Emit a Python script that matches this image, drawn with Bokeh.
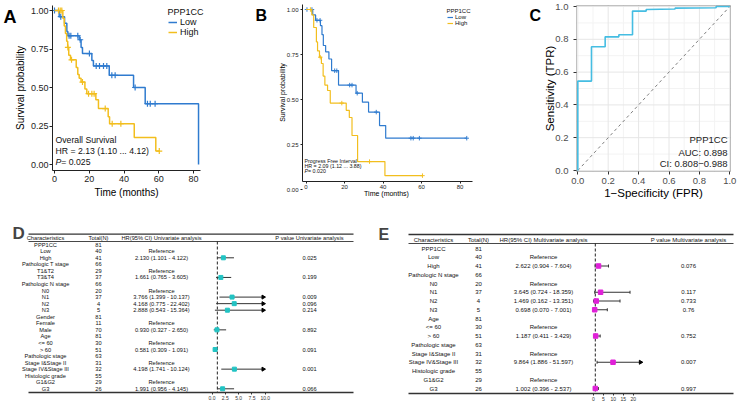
import numpy as np
from bokeh.core.properties import value
from bokeh.embed import file_html
from bokeh.layouts import column, row
from bokeh.models import (BoxAnnotation, FixedTicker, Label, Legend, LegendItem, LinearAxis,
                          PrintfTickFormatter, Range1d)
from bokeh.plotting import figure
from bokeh.resources import INLINE

FONT = "Liberation Sans"
LOW_COLOR = "#2F7BCF"
HIGH_COLOR = "#F2BE1E"
ROC_COLOR = "#45BDE2"
UNI_COLOR = "#22C3C3"
MULTI_COLOR = "#E020D8"
INK = "#222222"

# ---------------- Kaplan-Meier: overall survival ----------------
os_low_time = [2.7, 5.8, 7.1, 7.7, 14.2, 15.3, 16.1, 21.5, 22.4, 31.5, 45.5, 52.2, 82.9]
os_low_surv = [0.96, 0.918, 0.864, 0.836, 0.81, 0.76, 0.72, 0.676, 0.64, 0.579, 0.50, 0.395, 0.0]
os_low_cens = [0.0, 3.6, 8.4, 9.4, 13.4, 14.8, 20.1, 24.0, 25.9, 28.2, 30.1, 33.0, 34.9,
               46.4, 53.5, 55.1, 57.9]
os_high_time = [4.8, 5.6, 6.3, 7.0, 7.6, 8.2, 9.2, 12.5, 13.4, 14.2, 15.3, 17.5, 18.6,
                23.8, 25.3, 30.9, 31.7, 45.9, 58.3]
os_high_surv = [0.95, 0.90, 0.85, 0.80, 0.76, 0.71, 0.68, 0.63, 0.585, 0.56, 0.535, 0.49,
                0.46, 0.42, 0.363, 0.31, 0.265, 0.175, 0.087]
os_high_cens = [2.3, 3.3, 4.2, 7.7, 9.8, 16.1, 19.6, 21.5, 22.8, 29.2, 33.2, 38.2, 60.3]

# ---------------- Kaplan-Meier: progression free interval ----------------
pfi_low_time = [3.5, 5.0, 7.5, 8.3, 9.0, 10.2, 11.9, 13.3, 16.9, 26.0, 29.3, 32.5, 38.2, 41.4]
pfi_low_surv = [0.97, 0.94, 0.91, 0.86, 0.80, 0.765, 0.725, 0.66, 0.58, 0.535, 0.485, 0.43,
                0.355, 0.285]
pfi_low_cens = [0.5, 3.1, 5.7, 7.3, 14.9, 16.0, 22.7, 23.9, 26.6, 36.5, 54.5, 55.7, 58.9, 83.5]
pfi_high_time = [3.0, 4.0, 5.4, 6.0, 7.0, 8.0, 8.9, 9.8, 11.2, 12.6, 20.9, 22.5, 23.9, 26.8, 41.0]
pfi_high_surv = [0.97, 0.90, 0.82, 0.77, 0.735, 0.70, 0.63, 0.58, 0.55, 0.48, 0.44, 0.40,
                 0.30, 0.155, 0.077]
pfi_high_cens = [2.3, 7.4, 18.6, 33.0, 60.5]

time_ticks = [0, 20, 40, 60, 80]
surv_ticks = [0, 0.25, 0.5, 0.75, 1.0]

# ---------------- ROC ----------------
roc_fpr = [0.0, 0.0, 0.09, 0.09, 0.18, 0.18, 0.27, 0.27, 0.36, 0.36, 0.45, 0.45, 0.64, 0.64,
           0.91, 0.91, 1.0]
roc_tpr = [0.0, 0.545, 0.545, 0.755, 0.755, 0.815, 0.815, 0.828, 0.828, 0.972, 0.972, 0.982,
           0.985, 0.99, 0.992, 1.0, 1.0]
chance_line = [0.0, 1.0]
roc_ticks = [0.0, 0.2, 0.4, 0.6, 0.8, 1.0]
roc_minor = [0.1, 0.3, 0.5, 0.7, 0.9]

# ---------------- Cox regression: univariate ----------------
uni_names = ["PPP1CC", "Low", "High", "Pathologic T stage", "T1&T2", "T3&T4",
             "Pathologic N stage", "N0", "N1", "N2", "N3", "Gender", "Female", "Male", "Age",
             "<= 60", "> 60", "Pathologic stage", "Stage I&Stage II", "Stage IV&Stage III",
             "Histologic grade", "G1&G2", "G3"]
uni_total = [81, 40, 41, 66, 29, 37, 66, 20, 37, 4, 5, 81, 11, 70, 81, 30, 51, 63, 31, 32,
             55, 29, 26]
uni_reference = ["Low", "T1&T2", "N0", "Female", "<= 60", "Stage I&Stage II", "G1&G2"]
uni_term = ["High", "T3&T4", "N1", "N2", "N3", "Male", "> 60", "Stage IV&Stage III", "G3"]
uni_hr = [2.130, 1.661, 3.766, 4.168, 2.888, 0.930, 0.581, 4.198, 1.991]
uni_lo = [1.101, 0.765, 1.399, 0.775, 0.543, 0.327, 0.309, 1.741, 0.956]
uni_hi = [4.122, 3.605, 10.137, 22.402, 15.364, 2.650, 1.091, 10.124, 4.145]
uni_p = [0.025, 0.199, 0.009, 0.096, 0.214, 0.892, 0.091, 0.001, 0.066]
uni_ticks = [0, 2.5, 5, 7.5, 10]

# ---------------- Cox regression: multivariate ----------------
multi_names = ["PPP1CC", "Low", "High", "Pathologic N stage", "N0", "N1", "N2", "N3", "Age",
               "<= 60", "> 60", "Pathologic stage", "Stage I&Stage II", "Stage IV&Stage III",
               "Histologic grade", "G1&G2", "G3"]
multi_total = [81, 40, 41, 66, 20, 37, 4, 5, 81, 30, 51, 63, 31, 32, 55, 29, 26]
multi_reference = ["Low", "N0", "<= 60", "Stage I&Stage II", "G1&G2"]
multi_term = ["High", "N1", "N2", "N3", "> 60", "Stage IV&Stage III", "G3"]
multi_hr = [2.622, 3.645, 1.469, 0.698, 1.187, 9.864, 1.002]
multi_lo = [0.904, 0.724, 0.162, 0.070, 0.411, 1.886, 0.396]
multi_hi = [7.604, 18.359, 13.351, 7.001, 3.429, 51.597, 2.537]
multi_p = [0.076, 0.117, 0.733, 0.76, 0.752, 0.007, 0.997]
multi_ticks = [0, 5, 10, 15, 20]


# ------------------------------------------------------------------
# Every figure's frame fills its whole canvas; the axes are pinned with
# fixed_location/bounds so that each panel sits at a chosen pixel box.
# ------------------------------------------------------------------
def mapper(px0, kx, py0, ky):
    """Pixel -> data converters (page pixels, y downwards)."""
    return (lambda px: (px - px0) / kx), (lambda py: (py0 - py) / ky)


def canvas(ox, oy, w, h, X, Y, **kw):
    p = figure(width=w, height=h, x_range=Range1d(X(ox), X(ox + w)),
               y_range=Range1d(Y(oy + h), Y(oy)), min_border_left=0, min_border_right=0,
               min_border_top=0, min_border_bottom=0, output_backend="svg",
               toolbar_location=None, **kw)
    p.outline_line_color = None
    p.background_fill_color = "white"
    p.border_fill_color = "white"
    return p


def style_axis(ax, tick_px, tick_out, standoff, color=INK, line=True):
    ax.axis_line_color = color if line else None
    ax.axis_line_width = 1
    ax.major_tick_line_color = color
    ax.major_tick_out = tick_out
    ax.major_tick_in = 0
    ax.minor_tick_line_color = None
    ax.major_label_text_font = FONT
    ax.major_label_text_font_size = f"{tick_px}px"
    ax.major_label_text_color = color
    ax.major_label_standoff = standoff
    ax.axis_label = None


def text_label(p, x, y, text, size, **kw):
    opts = dict(text_font=FONT, text_font_size=f"{size}px", text_color="black",
                text_baseline="middle")
    opts.update(kw)
    p.add_layout(Label(x=x, y=y, text=text, **opts))


def km_panel(g, low, high, notes, letter):
    X, Y = mapper(g["px0"], g["kx"], g["py0"], g["ky"])
    p = canvas(g["ox"], 0, g["w"], 200, X, Y)
    p.grid.visible = False
    left, right, top, bottom = g["box"]
    p.xaxis.fixed_location = Y(bottom)
    p.xaxis.bounds = (X(left), X(right))
    p.yaxis.fixed_location = X(left)
    p.yaxis.bounds = (Y(bottom), Y(top))
    style_axis(p.xaxis[0], g["tick_px"], g["tick_out"], g["xso"])
    style_axis(p.yaxis[0], g["tick_px"], g["tick_out"], g["yso"])
    p.xaxis.ticker = FixedTicker(ticks=time_ticks)
    p.yaxis.ticker = FixedTicker(ticks=surv_ticks)
    p.yaxis.formatter = PrintfTickFormatter(format="%.2f")

    # axis titles
    tx, ty = g["xtitle"]
    text_label(p, X(tx), Y(ty), "Time (months)", g["title_px"], text_align="center")
    tx, ty = g["ytitle"]
    text_label(p, X(tx), Y(ty), "Survival probability", g["title_px"], text_align="center",
               angle=np.pi / 2)

    renderers = []
    for (times, surv, cens), color in ((low, LOW_COLOR), (high, HIGH_COLOR)):
        xs, ys = [0.0], [1.0]
        prev = 1.0
        for t, s in zip(times, surv):
            xs += [t, t]
            ys += [prev, s]
            prev = s
        end = max(times[-1], max(cens))
        if end > xs[-1]:
            xs.append(end)
            ys.append(prev)
        renderers.append(p.line(xs, ys, line_color=color, line_width=g["lw"]))
        cy = []
        for c in cens:
            s = 1.0
            for ti, si in zip(times, surv):
                if ti <= c:
                    s = si
            cy.append(s)
        p.scatter(cens, cy, marker="cross", size=g["mark"], line_color=color,
                  line_width=g["lw"] * 0.8)

    # legend
    lx, ly = g["leg_title"]
    text_label(p, X(lx), Y(ly), "PPP1CC", g["leg_px"], text_color="#111111")
    legend = Legend(items=[LegendItem(label="Low", renderers=[renderers[0]]),
                           LegendItem(label="High", renderers=[renderers[1]])],
                    location=g["leg_loc"], orientation="vertical")
    legend.label_text_font = FONT
    legend.label_text_font_size = f"{g['leg_px']}px"
    legend.label_text_color = "#111111"
    legend.label_height = g["leg_row"]
    legend.glyph_height = g["leg_row"]
    legend.glyph_width = g["leg_glyph"]
    legend.label_standoff = g["leg_so"]
    legend.spacing = 0
    legend.padding = 0
    legend.margin = 0
    legend.background_fill_alpha = 0
    legend.border_line_alpha = 0
    p.add_layout(legend)

    # statistics note
    nx, ny0, ndy, fs = g["note"]
    for i, txt in enumerate(notes):
        y = Y(ny0 + i * ndy)
        if txt.startswith("P ="):
            text_label(p, X(nx), y, "P", fs, text_font_style="italic", text_color="#111111")
            text_label(p, X(nx), y, txt[1:], fs, x_offset=0.667 * fs, text_color="#111111")
        else:
            text_label(p, X(nx), y, txt, fs, text_color="#111111")

    lx, lb, lfs = g["letter"]
    text_label(p, X(lx), Y(lb), letter, lfs, text_font_style="bold",
               text_baseline="alphabetic")
    return p


geo_a = dict(ox=0, w=245, px0=54.0, kx=1.7375, py0=164.0, ky=154.0, box=(52, 200, 5, 170),
             tick_px=9, tick_out=3, xso=2, yso=1, title_px=10, xtitle=(126, 192),
             ytitle=(20, 87.5), lw=1.5, mark=6, leg_title=(167, 11), leg_loc=(168, 163),
             leg_px=9, leg_row=10, leg_glyph=9, leg_so=3, note=(55, 139, 11, 8.7),
             letter=(3, 16, 18))
geo_b = dict(ox=245, w=245, px0=305.5, kx=1.925, py0=189.0, ky=180.0, box=(302, 472, 4, 181),
             tick_px=6, tick_out=2, xso=1, yso=2, title_px=7, xtitle=(386, 193.3),
             ytitle=(281.7, 92), lw=1.2, mark=4.5, leg_title=(446, 10), leg_loc=(202, 174),
             leg_px=6, leg_row=6, leg_glyph=6, leg_so=2, note=(304, 160, 5, 5.3),
             letter=(255, 15, 16))

pA = km_panel(geo_a, (os_low_time, os_low_surv, os_low_cens),
              (os_high_time, os_high_surv, os_high_cens),
              ["Overall Survival", "HR = 2.13 (1.10 ... 4.12)", "P = 0.025"], "A")
pB = km_panel(geo_b, (pfi_low_time, pfi_low_surv, pfi_low_cens),
              (pfi_high_time, pfi_high_surv, pfi_high_cens),
              ["Progress Free Interval", "HR = 2.09 (1.12 ... 3.88)", "P = 0.020"], "B")

# ---------------- ROC panel ----------------
Xc, Yc = mapper(577.3, 152.0, 170.0, 164.0)
pC = canvas(490, 0, 247, 200, Xc, Yc)
pC.grid.visible = False
c_left, c_right, c_top, c_bottom = Xc(576), Xc(730), Yc(5), Yc(171)
for vals, color in ((roc_minor, "#F3F3F3"), (roc_ticks, "#E6E6E6")):
    n = len(vals)
    pC.segment(x0=vals, x1=vals, y0=[c_bottom] * n, y1=[c_top] * n, line_color=color,
               line_width=1)
    pC.segment(x0=[c_left] * n, x1=[c_right] * n, y0=vals, y1=vals, line_color=color,
               line_width=1)
pC.add_layout(BoxAnnotation(left=c_left, right=c_right, bottom=c_bottom, top=c_top,
                            fill_color=None, line_color="#333333", line_width=1))
pC.xaxis.fixed_location = c_bottom
pC.xaxis.bounds = (c_left, c_right)
pC.yaxis.fixed_location = c_left
pC.yaxis.bounds = (c_bottom, c_top)
style_axis(pC.xaxis[0], 9.5, 3, 3, color="#4D4D4D", line=False)
style_axis(pC.yaxis[0], 9.5, 3, 5, color="#4D4D4D", line=False)
for ax in (pC.xaxis[0], pC.yaxis[0]):
    ax.major_tick_line_color = "#333333"
    ax.ticker = FixedTicker(ticks=roc_ticks)
    ax.formatter = PrintfTickFormatter(format="%.1f")
pC.line(chance_line, chance_line, line_color="#7F7F7F", line_dash="3 3", line_width=1)
pC.line(roc_fpr, roc_tpr, line_color=ROC_COLOR, line_width=1.6)
text_label(pC, Xc(653), Yc(192), "1\u2212Specificity (FPR)", 11.5, text_align="center")
text_label(pC, Xc(549), Yc(88), "Sensitivity (TPR)", 11.5, text_align="center",
           angle=np.pi / 2)
for txt, py in (("PPP1CC", 139), ("AUC: 0.898", 152), ("CI: 0.808\u22120.988", 163)):
    text_label(pC, Xc(727), Yc(py), txt, 9.5, text_align="right", text_color="#222222")
text_label(pC, Xc(529), Yc(15), "C", 16, text_font_style="bold", text_baseline="alphabetic")


# ---------------- forest tables ----------------
def forest_table(g, names, totals, refs, terms, hr, lo, hi, pv, ticks, tick_fmt, color,
                 headers, letter, caps):
    def ypos(py):
        return (g["row0"] - py) / g["row_px"]

    def hpos(px):
        return (px - g["hr0"]) / g["scale"]

    ox, w = g["ox"], g["w"]
    p = canvas(ox, 200, w, 201, lambda px: px, ypos, x_axis_type=None, y_axis_type=None)
    p.extra_x_ranges = {"hr": Range1d(hpos(ox), hpos(ox + w))}
    t_left, t_right = g["table"]

    ax = LinearAxis(x_range_name="hr", ticker=FixedTicker(ticks=ticks),
                    formatter=PrintfTickFormatter(format=tick_fmt),
                    fixed_location=ypos(g["bottom_line"]),
                    bounds=(hpos(t_left), hpos(t_right)))
    ax.axis_line_color = "#333333"
    ax.axis_line_width = 1.3
    ax.major_tick_line_color = "#333333"
    ax.major_tick_out = 2
    ax.major_tick_in = 0
    ax.minor_tick_line_color = None
    ax.major_label_text_font = FONT
    ax.major_label_text_font_size = "5px"
    ax.major_label_text_color = "#333333"
    ax.major_label_standoff = 1
    p.add_layout(ax, "below")

    # table rules
    p.segment(x0=[t_left, t_left], x1=[t_right, t_right],
              y0=[ypos(g["top_line"]), ypos(g["head_line"])],
              y1=[ypos(g["top_line"]), ypos(g["head_line"])],
              line_color="#333333", line_width=[1.3, 0.9])

    fs = value(f"{g['font']}px")
    common = dict(text_font=value(FONT), text_font_size=fs, text_align="center",
                  text_baseline="middle", text_color="#111111")
    cx = g["cols"]
    hy = ypos(g["head"])
    p.text(x=[cx[0], cx[1], cx[2], cx[3]], y=[hy] * 4, text=headers, **common)

    ys = [-i for i in range(len(names))]
    p.text(x=[cx[0]] * len(names), y=ys, text=names, **common)
    p.text(x=[cx[1]] * len(names), y=ys, text=[str(v) for v in totals], **common)

    ref_y = [-names.index(n) for n in refs]
    p.text(x=[cx[2]] * len(ref_y), y=ref_y, text=["Reference"] * len(ref_y), **common)

    term_y = [-names.index(n) for n in terms]
    hr_txt = [f"{h:.3f} ({a:.3f} - {b:.3f})" for h, a, b in zip(hr, lo, hi)]
    p.text(x=[cx[2]] * len(term_y), y=term_y, text=hr_txt, **common)
    p.text(x=[cx[3]] * len(term_y), y=term_y, text=[str(v) for v in pv], **common)

    # reference line at HR = 1
    p.segment(x0=[1], x1=[1], y0=[ypos(g["head_line"])], y1=[ypos(g["bottom_line"])],
              x_range_name="hr", line_color=INK, line_dash="3 2", line_width=1)

    clip = g["clip"]
    hi_c = [min(b, clip) for b in hi]
    p.segment(x0=lo, x1=hi_c, y0=term_y, y1=term_y, x_range_name="hr",
              line_color="#333333", line_width=1)
    if caps:
        cap_x = lo + [b for b in hi if b <= clip]
        cap_y = term_y + [y for y, b in zip(term_y, hi) if b <= clip]
        p.scatter(cap_x, cap_y, marker="dash", angle=np.pi / 2, size=3, line_color="#333333",
                  line_width=1, x_range_name="hr")
    arr_y = [y for y, b in zip(term_y, hi) if b > clip]
    p.scatter([clip] * len(arr_y), arr_y, marker="triangle", angle=-np.pi / 2, size=4,
              fill_color="black", line_color="black", x_range_name="hr")
    p.scatter(hr, term_y, marker="square", size=g["sq"], fill_color=color, line_color=color,
              x_range_name="hr")

    lx, lb, lfs = g["letter"]
    p.add_layout(Label(x=lx, y=ypos(lb), text=letter, text_font=FONT,
                       text_font_size=f"{lfs}px", text_font_style="bold",
                       text_baseline="alphabetic"))
    return p


geo_d = dict(ox=0, w=368, table=(28, 353), row0=244.2, row_px=6.55, head=237.2,
             top_line=233.7, head_line=241, bottom_line=392, hr0=211.5, scale=5.33, clip=9.6,
             font=5.7, cols=[45, 98, 161, 309], sq=4, letter=(12, 233, 17))
geo_e = dict(ox=368, w=369, table=(408, 733), row0=248, row_px=8.75, head=239,
             top_line=234, head_line=243, bottom_line=393, hr0=592.8, scale=2.0, clip=23.6,
             font=6, cols=[433, 478, 543, 688], sq=4.5, letter=(378, 234, 16))

pD = forest_table(geo_d, uni_names, uni_total, uni_reference, uni_term, uni_hr, uni_lo, uni_hi,
                  uni_p, uni_ticks, "%.1f", UNI_COLOR,
                  ["Characteristics", "Total(N)", "HR(95% CI) Univariate analysis",
                   "P value Univariate analysis"], "D", caps=False)
pE = forest_table(geo_e, multi_names, multi_total, multi_reference, multi_term, multi_hr,
                  multi_lo, multi_hi, multi_p, multi_ticks, "%d", MULTI_COLOR,
                  ["Characteristics", "Total(N)", "HR(95% CI) Multivariate analysis",
                   "P value Multivariate analysis"], "E", caps=True)

layout = column(row(pA, pB, pC), row(pD, pE))
open("out.html", "w").write(file_html(layout, INLINE))
